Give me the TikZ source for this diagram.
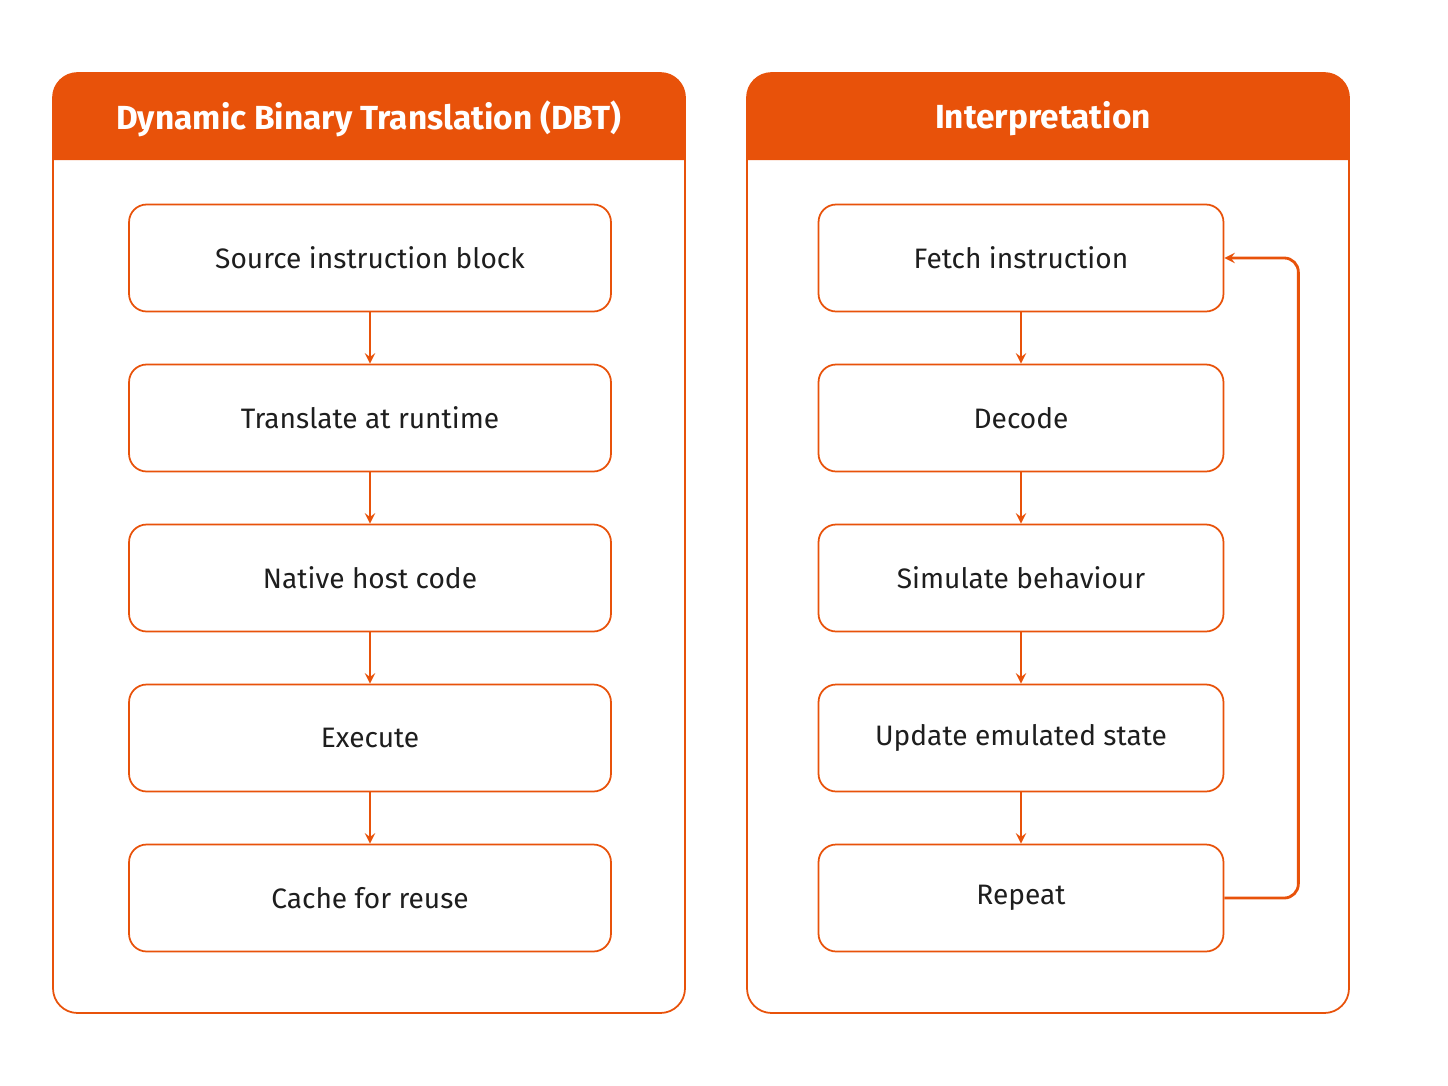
\documentclass[tikz,border=0pt]{standalone}
\usepackage{fontspec}
\setmainfont{Fira Sans}
\definecolor{hdr}{HTML}{E8520A}
\definecolor{txt}{HTML}{1E1E1E}
\begin{document}
\begin{tikzpicture}[x=0.02cm, y=-0.02cm,
                    stage/.style={draw=hdr, line width=1pt, rounded corners=10pt, fill=white,
                                 minimum height=2.14cm, text=txt, font=\fontsize{16}{18}\selectfont},
                    dbtstage/.style={stage, minimum width=9.64cm},
                    intstage/.style={stage, minimum width=8.1cm},
                    flow/.style={->, >=stealth, draw=hdr, line width=1.6pt}]

                    % page
                    \useasboundingbox (0,0) rectangle (1448,1086);

                    % panels
                    \draw[hdr, line width=1pt, rounded corners=14pt] (53,73) rectangle (685,1013);
                    \draw[hdr, line width=1pt, rounded corners=14pt] (747,73) rectangle (1349,1013);
                    \fill[hdr] (53,160) [rounded corners=14pt] -- (53,73) -- (685,73) [sharp corners] -- (685,160) -- cycle;
                    \fill[hdr] (747,160) [rounded corners=14pt] -- (747,73) -- (1349,73) [sharp corners] -- (1349,160) -- cycle;
                    \node[text=white, font=\fontsize{19}{22}\selectfont\bfseries] (dbtTitle) at (369,119) {Dynamic Binary Translation (DBT)};
                    \node[text=white, font=\fontsize{19}{22}\selectfont\bfseries] (intTitle) at (1043,119) {Interpretation};

                    % DBT stages
                    \node[dbtstage] (D1) at (370,258) {Source instruction block};
                    \node[dbtstage] (D2) at (370,418) {Translate at runtime};
                    \node[dbtstage] (D3) at (370,578) {Native host code};
                    \node[dbtstage] (D4) at (370,738) {Execute};
                    \node[dbtstage] (D5) at (370,898) {Cache for reuse};

                    % Interpretation stages
                    \node[intstage] (I1) at (1021,258) {Fetch instruction};
                    \node[intstage] (I2) at (1021,418) {Decode};
                    \node[intstage] (I3) at (1021,578) {Simulate behaviour};
                    \node[intstage] (I4) at (1021,738) {Update emulated state};
                    \node[intstage] (I5) at (1021,898) {Repeat};

                    % arrows
                    \foreach \a/\b in {D1/D2, D2/D3, D3/D4, D4/D5, I1/I2, I2/I3, I3/I4, I4/I5}
                        \draw[flow] (\a) -- (\b);
                    \draw[flow, rounded corners=8pt] (I5.east) -- ++(74,0) |- (I1.east);
                    \end{tikzpicture}
\end{document}
